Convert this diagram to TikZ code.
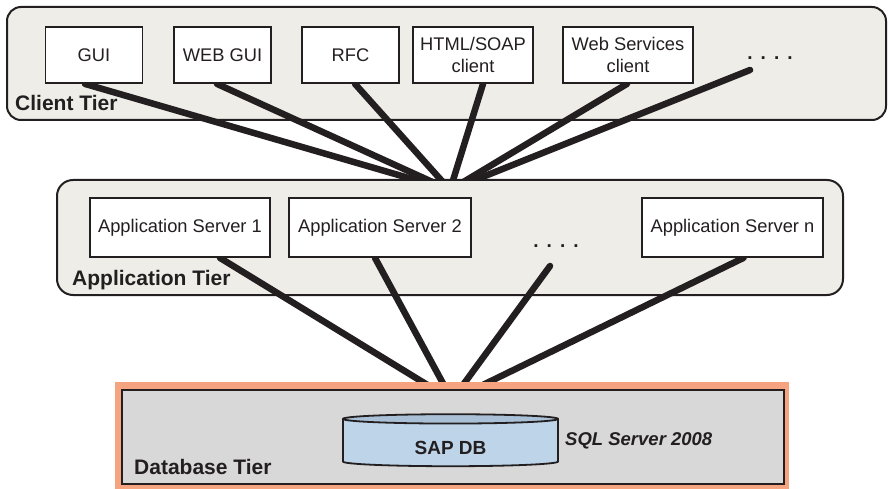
\documentclass[tikz,border=0pt]{standalone}
\usepackage{fontspec}
\setmainfont{Liberation Sans}
\usetikzlibrary{shapes.geometric}
\definecolor{ink}{HTML}{231F20}
\definecolor{tierbg}{HTML}{EEEDE7}
\definecolor{dbgrey}{HTML}{D8D8D8}
\definecolor{dbedge}{HTML}{F6A37F}
\definecolor{dbblue}{HTML}{BDD4E9}
\definecolor{dbtop}{HTML}{A9C0D6}
\pgfdeclarelayer{tierA}
\pgfdeclarelayer{linkA}
\pgfdeclarelayer{tierB}
\pgfdeclarelayer{linkB}
\pgfsetlayers{tierA,linkA,tierB,linkB,main}

\begin{document}
\begin{tikzpicture}[
    x=1pt,y=-1pt,
    tier/.style={draw=ink,line width=2pt,fill=tierbg,rounded corners=14pt,inner sep=0pt},
    box/.style={draw=ink,line width=1.8pt,fill=white,inner sep=0pt,align=center,
      minimum height=56pt,font=\fontsize{18.3}{22}\selectfont,text=ink},
    srvbox/.style={box,minimum height=59pt},
    tierlab/.style={font=\fontsize{21}{25}\selectfont\bfseries,anchor=base west,text=ink,inner sep=0pt},
    link/.style={draw=ink,line width=6.5pt,line cap=round},
    dotrow/.style={font=\fontsize{19}{22}\selectfont\bfseries,inner sep=0pt,text=ink}
  ]
  \useasboundingbox (0,0) rectangle (888,489);

  % client tier
  \begin{pgfonlayer}{tierA}
    \node[tier,minimum width=879pt,minimum height=113pt] (clienttier) at (446.5,63.5) {};
  \end{pgfonlayer}
  \node[box,minimum width=97pt] (gui) at (94,55) {GUI};
  \node[box,minimum width=97pt] (webgui) at (222.5,55) {WEB GUI};
  \node[box,minimum width=97pt] (rfc) at (350.5,55) {RFC};
  \node[box,minimum width=120pt] (html) at (473,55) {HTML/SOAP\\client};
  \node[box,minimum width=130pt] (websvc) at (628,55) {Web Services\\client};
  \node[dotrow] (cdots) at (770,58) {.\hspace{8pt}.\hspace{8pt}.\hspace{8pt}.};
  \node[tierlab] (clientlab) at (15,111) {Client Tier};

  \coordinate (hubup) at (450,190);
  \coordinate (cdotsfoot) at (750,70);
  \begin{pgfonlayer}{linkA}
    \foreach \n/\dx in {gui/-9,webgui/-5.5,rfc/4.5,html/10,websvc/-1}
      \draw[link] ([xshift=\dx pt]\n.south) -- (hubup);
    \draw[link] (cdotsfoot) -- (hubup);
  \end{pgfonlayer}

  % application tier
  \begin{pgfonlayer}{tierB}
    \node[tier,rounded corners=16pt,minimum width=786pt,minimum height=115pt] (apptier) at (450,237.5) {};
  \end{pgfonlayer}
  \node[srvbox,minimum width=180pt] (srv1) at (180,227.5) {Application Server 1};
  \node[srvbox,minimum width=182pt] (srv2) at (380,227.5) {Application Server 2};
  \node[srvbox,minimum width=181pt] (srvn) at (732.5,227.5) {Application Server n};
  \node[dotrow] (adots) at (556,246) {.\hspace{8pt}.\hspace{8pt}.\hspace{8pt}.};
  \node[tierlab] (applab) at (72,285) {Application Tier};

  \coordinate (hubdown) at (452,400);
  \coordinate (adotsfoot) at (550,266);
  \begin{pgfonlayer}{linkB}
    \foreach \n/\dx in {srv1/40,srv2/-5,srvn/11}
      \draw[link] ([xshift=\dx pt]\n.south) -- (hubdown);
    \draw[link] (adotsfoot) -- (hubdown);
  \end{pgfonlayer}

  % database tier
  \node[fill=dbedge,inner sep=0pt,minimum width=674pt,minimum height=107pt] (dbframe) at (452,435.5) {};
  \node[draw=ink,line width=2pt,fill=dbgrey,inner sep=0pt,minimum width=662pt,minimum height=94pt] (dbtier) at (453,437) {};
  \node[cylinder,shape border rotate=90,aspect=0.13,draw=ink,line width=1.8pt,
    cylinder uses custom fill,cylinder body fill=dbblue,cylinder end fill=dbtop,
    minimum width=215pt,minimum height=52pt,inner sep=0pt,
    font=\fontsize{19}{22}\selectfont\bfseries,text=ink] (sapdb) at (450.5,443) {\raisebox{-11pt}[0pt][0pt]{SAP DB}};
  \node[font=\fontsize{18.5}{22}\selectfont\bfseries\itshape,anchor=base west,inner sep=0pt,text=ink] (sqlsrv) at (565,445) {SQL Server 2008};
  \node[tierlab] (dblab) at (134,474) {Database Tier};
\end{tikzpicture}
\end{document}
